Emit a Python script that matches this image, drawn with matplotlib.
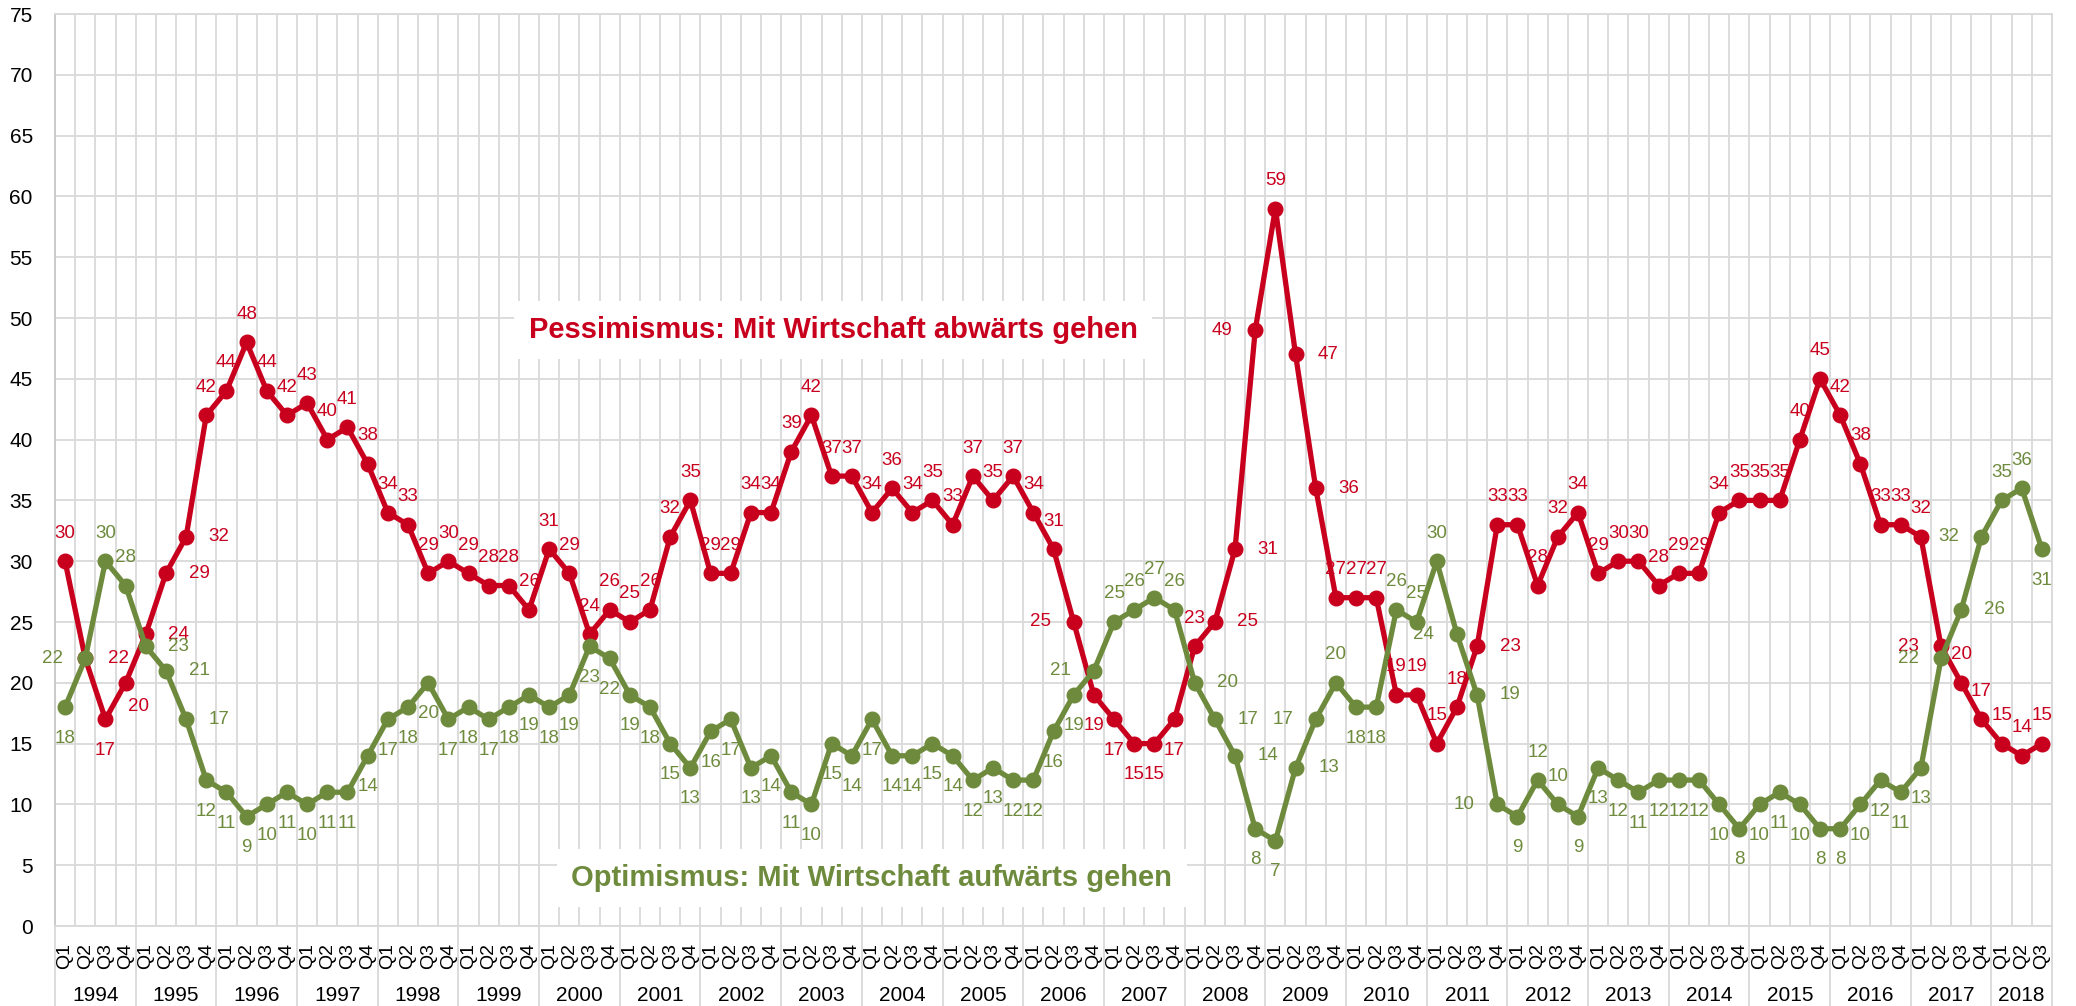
import matplotlib
matplotlib.use("Agg")
import matplotlib.pyplot as plt
import matplotlib.transforms as mtransforms

plt.rcParams['font.family'] = ['Liberation Sans', 'DejaVu Sans']

years = [str(y) for y in range(1994, 2019)]
quarters = ["Q1", "Q2", "Q3", "Q4"]

# Pessimismus: Mit Wirtschaft abwärts gehen (in %)
pessimism = [30, 22, 17, 20, 24, 29, 32, 42, 44, 48, 44, 42, 43, 40, 41, 38,
             34, 33, 29, 30, 29, 28, 28, 26, 31, 29, 24, 26, 25, 26, 32, 35,
             29, 29, 34, 34, 39, 42, 37, 37, 34, 36, 34, 35, 33, 37, 35, 37,
             34, 31, 25, 19, 17, 15, 15, 17, 23, 25, 31, 49, 59, 47, 36, 27,
             27, 27, 19, 19, 15, 18, 23, 33, 33, 28, 32, 34, 29, 30, 30, 28,
             29, 29, 34, 35, 35, 35, 40, 45, 42, 38, 33, 33, 32, 23, 20, 17,
             15, 14, 15]

# Optimismus: Mit Wirtschaft aufwärts gehen (in %)
optimism = [18, 22, 30, 28, 23, 21, 17, 12, 11, 9, 10, 11, 10, 11, 11, 14,
            17, 18, 20, 17, 18, 17, 18, 19, 18, 19, 23, 22, 19, 18, 15, 13,
            16, 17, 13, 14, 11, 10, 15, 14, 17, 14, 14, 15, 14, 12, 13, 12,
            12, 16, 19, 21, 25, 26, 27, 26, 20, 17, 14, 8, 7, 13, 17, 20,
            18, 18, 26, 25, 30, 24, 19, 10, 9, 12, 10, 9, 13, 12, 11, 12,
            12, 12, 10, 8, 10, 11, 10, 8, 8, 10, 12, 11, 13, 22, 26, 32,
            35, 36, 31]

n = len(pessimism)
x = list(range(n))
qlabels = [quarters[i % 4] for i in range(n)]

RED = "#C8001E"
GREEN = "#6E8B3D"
GRID = "#D9D9D9"

# label placement (a=above, b=below, l=left, r=right, br=below right)
red_pos = ["a"] * n
for i, p in {1: "r", 2: "b", 3: "br", 4: "r", 5: "r", 6: "r", 50: "l", 51: "b",
             52: "b", 53: "b", 54: "b", 55: "b", 57: "r", 58: "r", 59: "l",
             61: "r", 62: "r", 70: "r", 93: "l"}.items():
    red_pos[i] = p
green_pos = ["b"] * n
for i, p in {1: "l", 2: "a", 3: "a", 4: "r", 5: "r", 6: "r", 51: "l", 52: "a",
             53: "a", 54: "a", 55: "a", 56: "r", 57: "r", 58: "r", 61: "r",
             62: "l", 63: "a", 66: "a", 67: "a", 68: "a", 69: "l", 70: "r",
             71: "l", 73: "a", 74: "a", 93: "l", 94: "r", 95: "l", 96: "a",
             97: "a"}.items():
    green_pos[i] = p
offsets = {"a": (0, 28), "b": (0, -31), "l": (-33, 0), "r": (33, 0), "br": (13, -24)}

fig = plt.figure(figsize=(20.76, 10.06), dpi=100)
ax = fig.add_axes([55 / 2076, 1 - 926 / 1006, 1997 / 2076, 912 / 1006])

ax.plot(x, pessimism, color=RED, lw=3.8, marker="o", ms=10.5, zorder=3)
ax.plot(x, optimism, color=GREEN, lw=3.8, marker="o", ms=10.5, zorder=3)

for vals, pos, col in [(pessimism, red_pos, RED), (optimism, green_pos, GREEN)]:
    for xi, v, p in zip(x, vals, pos):
        ax.annotate(str(v), (xi, v), xytext=offsets[p], textcoords="offset pixels",
                    ha="center", va="center", fontsize=13.5, color=col, zorder=4)

ax.set_xlim(-0.5, n - 0.5)
ax.set_ylim(0, 75)
ax.set_yticks(range(0, 76, 5))
ax.set_xticks(x)
ax.set_xticklabels(qlabels, rotation=90, fontsize=14)
ax.set_xticks([i - 0.5 for i in range(n + 1)], minor=True)
ax.tick_params(axis="x", which="both", length=0, pad=12)
ax.tick_params(axis="y", length=0, pad=16, labelsize=15)
ax.set_axisbelow(True)
ax.grid(True, axis="y", color=GRID, lw=1.3)
ax.grid(True, axis="x", which="minor", color=GRID, lw=1.3)
ax.grid(False, axis="x", which="major")
for s in ax.spines.values():
    s.set_color(GRID)
    s.set_linewidth(1.3)
ax.spines["left"].set_color("#C8C8C8")

# year groups under the quarter labels
trans = mtransforms.blended_transform_factory(ax.transData, ax.transAxes)
bottom = -(1006 - 926) / 912
for k, yr in enumerate(years):
    start = 4 * k
    end = min(4 * k + 3, n - 1)
    ax.text((start + end) / 2, -0.0757, yr, transform=trans, ha="center",
            va="center", fontsize=15)
for b in list(range(0, n, 4)) + [n]:
    ax.plot([b - 0.5, b - 0.5], [0, bottom], transform=trans, color=GRID,
            lw=1.3, clip_on=False, zorder=1)

ax.text(0.3896, 0.6535, "Pessimismus: Mit Wirtschaft abwärts gehen",
        transform=ax.transAxes, ha="center", va="center", fontsize=21,
        fontweight="bold", color=RED, zorder=2,
        bbox=dict(boxstyle="square,pad=0.5", fc="white", ec="none"))
ax.text(0.409, 0.0526, "Optimismus: Mit Wirtschaft aufwärts gehen",
        transform=ax.transAxes, ha="center", va="center", fontsize=21,
        fontweight="bold", color=GREEN, zorder=2,
        bbox=dict(boxstyle="square,pad=0.5", fc="white", ec="none"))

fig.savefig("out.png", dpi=100)
